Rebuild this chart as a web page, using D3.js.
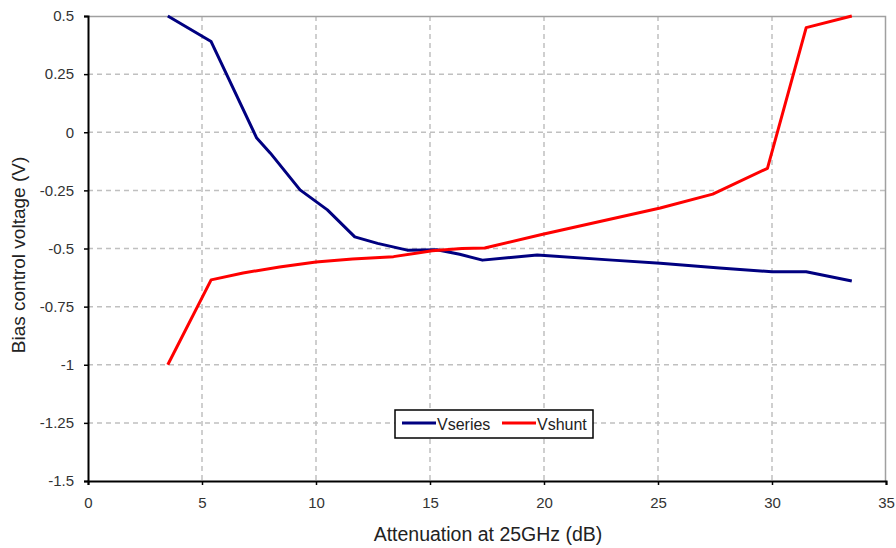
<!DOCTYPE html>
<html>
<head>
<meta charset="utf-8">
<script src="https://cdn.jsdelivr.net/npm/d3@7"></script>
<style>
  body { margin: 0; background: #fff; }
  svg { display: block; font-family: "Liberation Sans", Arial, sans-serif; }
</style>
</head>
<body>
<svg id="chart" width="896" height="548"></svg>
<script>
// DATA
const xTicks = [0, 5, 10, 15, 20, 25, 30, 35];
const yTicks = [0.5, 0.25, 0, -0.25, -0.5, -0.75, -1, -1.25, -1.5];
const yTickLabels = ["0.5", "0.25", "0", "-0.25", "-0.5", "-0.75", "-1", "-1.25", "-1.5"];

const vseriesX = [3.5, 5.4, 7.4, 8.0, 9.3, 10.5, 11.7, 12.7, 14.0, 15.3, 16.3, 17.3, 19.7, 23.0, 25.1, 27.7, 30.0, 31.5, 33.5];
const vseriesY = [0.5, 0.39, -0.025, -0.09, -0.248, -0.334, -0.45, -0.478, -0.507, -0.505, -0.525, -0.55, -0.528, -0.55, -0.563, -0.584, -0.6, -0.6, -0.64];

const vshuntX = [3.5, 5.4, 6.8, 8.4, 10.0, 11.6, 13.4, 15.1, 16.4, 17.4, 19.9, 25.1, 27.4, 29.8, 31.5, 33.5];
const vshuntY = [-1.0, -0.635, -0.605, -0.58, -0.558, -0.545, -0.535, -0.51, -0.5, -0.498, -0.44, -0.326, -0.266, -0.155, 0.45, 0.5];

const seriesNames = ["Vseries", "Vshunt"];
const seriesColors = ["#000080", "#ff0000"];

// CANVAS SETUP
const svg = d3.select("#chart");
const margin = { top: 16, right: 10, bottom: 67, left: 88 },
  width = 886 - margin.left,
  height = 481 - margin.top;

const g = svg.append("g").attr("transform", `translate(${margin.left},${margin.top})`);

const xScale = d3.scaleLinear().domain([0, 35]).range([0, width]);
const yScale = d3.scaleLinear().domain([-1.5, 0.5]).range([height, 0]);

// GRID
g.append("g")
  .selectAll("line")
  .data(xTicks.slice(1, -1))
  .join("line")
  .attr("x1", (d) => xScale(d))
  .attr("x2", (d) => xScale(d))
  .attr("y1", 0)
  .attr("y2", height)
  .attr("stroke", "#c0c0c0")
  .attr("stroke-width", 1.5)
  .attr("stroke-dasharray", "5,4");

g.append("g")
  .selectAll("line")
  .data(yTicks.slice(1, -1))
  .join("line")
  .attr("x1", 0)
  .attr("x2", width)
  .attr("y1", (d) => yScale(d))
  .attr("y2", (d) => yScale(d))
  .attr("stroke", "#c0c0c0")
  .attr("stroke-width", 1.5)
  .attr("stroke-dasharray", "5,4");

// plot border (top, right)
g.append("path")
  .attr("d", `M0,0.5H${width - 0.5}V${height}`)
  .attr("fill", "none")
  .attr("stroke", "#a0a0a0")
  .attr("stroke-width", 1.5);

// AXES
const xAxis = g.append("g")
  .attr("transform", `translate(0,${height})`)
  .call(d3.axisBottom(xScale).tickValues(xTicks).tickSize(4).tickPadding(12));

const yAxis = g.append("g")
  .call(
    d3.axisLeft(yScale)
      .tickValues(yTicks)
      .tickFormat((d, i) => yTickLabels[i])
      .tickSize(4)
      .tickPadding(10)
  );

[xAxis, yAxis].forEach((ax) => {
  ax.select(".domain").attr("stroke", "#000").attr("stroke-width", 2);
  ax.selectAll(".tick line").attr("stroke", "#000").attr("stroke-width", 1.5);
  ax.selectAll(".tick text")
    .attr("fill", "#333")
    .style("font-size", "15px")
    .style("font-family", "Liberation Sans, Arial, sans-serif");
});

// LINES
const line = d3.line()
  .x((d) => xScale(d[0]))
  .y((d) => yScale(d[1]));

const seriesData = [
  d3.zip(vseriesX, vseriesY),
  d3.zip(vshuntX, vshuntY),
];

g.selectAll(".series")
  .data(seriesData)
  .join("path")
  .attr("class", "series")
  .attr("d", line)
  .attr("fill", "none")
  .attr("stroke", (d, i) => seriesColors[i])
  .attr("stroke-width", 3)
  .attr("stroke-linejoin", "round");

// AXIS TITLES
svg.append("text")
  .attr("x", 488)
  .attr("y", 541)
  .attr("text-anchor", "middle")
  .style("font-size", "19.5px")
  .attr("fill", "#222")
  .text("Attenuation at 25GHz (dB)");

svg.append("text")
  .attr("transform", "translate(25,255) rotate(-90)")
  .attr("text-anchor", "middle")
  .style("font-size", "19px")
  .attr("fill", "#222")
  .text("Bias control voltage (V)");

// LEGEND
const legend = svg.append("g").attr("transform", "translate(395,410)");
legend.append("rect")
  .attr("width", 198)
  .attr("height", 28)
  .attr("fill", "#fff")
  .attr("stroke", "#000")
  .attr("stroke-width", 1.5);

const legendItems = legend.selectAll(".item")
  .data(seriesNames)
  .join("g")
  .attr("class", "item")
  .attr("transform", (d, i) => `translate(${[7, 107][i]},0)`);

legendItems.append("line")
  .attr("x1", 0)
  .attr("x2", 34)
  .attr("y1", 13)
  .attr("y2", 13)
  .attr("stroke", (d, i) => seriesColors[i])
  .attr("stroke-width", 3);

legendItems.append("text")
  .attr("x", 35)
  .attr("y", 20)
  .style("font-size", "16px")
  .attr("fill", "#222")
  .text((d) => d);
</script>
</body>
</html>
